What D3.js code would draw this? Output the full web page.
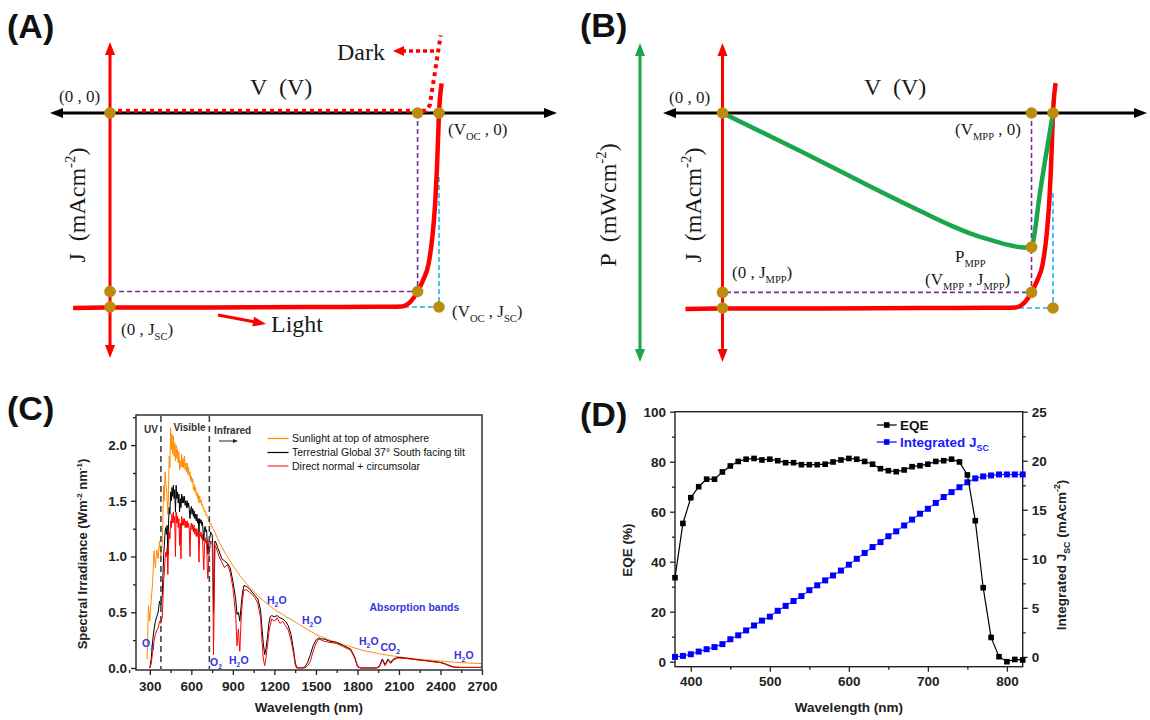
<!DOCTYPE html>
<html><head><meta charset="utf-8">
<script src="https://cdn.jsdelivr.net/npm/d3@7"></script>
<style>body{margin:0;background:#fff} svg{display:block} text{white-space:pre}</style>
</head><body><svg id="c" width="1150" height="720"></svg>
<script>
// ---------------- DATA ----------------
// Panels A/B : schematic J-V curve (V normalised to Voc, J normalised to Jsc)
const jvV = [-0.112, 0.0, 0.3, 0.6, 0.8, 0.887, 0.914, 0.935, 0.952, 0.968, 0.981, 0.989, 0.994, 1.0, 1.008];
const jvJ = [-1.005, -1.003, -1.002, -1.0, -0.999, -0.997, -0.972, -0.92, -0.86, -0.78, -0.62, -0.448, -0.277, 0.0, 0.153];
const darkV = [0, 0.96, 0.972, 1.005];
const darkJ = [0.012, 0.012, 0.04, 0.40];
const powV = [0, 0.229, 0.45, 0.6, 0.69, 0.76, 0.82, 0.87, 0.91, 0.935, 0.945, 0.958, 0.978, 1.0];
const powP = [0, -0.237, -0.474, -0.63, -0.72, -0.78, -0.82, -0.848, -0.862, -0.86, -0.76, -0.55, -0.28, 0];
const mppV = 0.935, mppJ = -0.92, mppP = -0.86;

// Panel C : solar spectra
const specWl = [280,290,300,310,320,330,340,350,360,370,380,390,400,
 405,410,415,420,425,430,435,440,445,450,455,460,465,470,475,480,485,490,495,500,
 505,510,515,520,525,530,535,540,545,550,555,560,565,570,575,580,585,590,595,600,
 605,610,615,620,625,630,635,640,645,650,655,660,665,670,675,680,685,690,695,700,
 705,710,715,720,725,730,735,740,745,750,755,760,770,780,790,800,
 820,840,860,880,900,910,920,930,940,950,960,970,980,1000,1020,1040,1060,1080,1100,1110,1120,1130,1140,1150,1160,1170,1180,1200,1220,1240,1260,1280,1300,1320,1340,1350,1360,1380,1400,1420,1440,1460,1480,1500,1520,1540,1560,1600,1650,1700,1750,1780,1800,1820,1850,1900,1940,1960,1980,2000,2020,2040,2060,2080,2100,2150,2200,2250,2300,2350,2400,2430,2450,2470,2500,2550,2600,2650,2700];
const specAM0 = [0.08,0.56,0.42,0.62,0.76,1.05,0.9,1.06,0.98,1.14,1.0,1.12,1.64,
 1.5,1.76,1.66,1.62,1.5,1.38,1.6,1.9,1.8,2.15,
 1.96,2.1,1.92,2.08,1.9,2.02,1.86,2.0,1.88,1.96,
 1.84,1.94,1.78,1.86,1.8,1.92,1.8,1.88,1.8,1.9,
 1.78,1.84,1.76,1.84,1.74,1.8,1.72,1.76,1.68,1.72,
 1.66,1.7,1.6,1.65,1.58,1.62,1.55,1.58,1.52,1.56,
 1.48,1.54,1.48,1.51,1.46,1.47,1.43,1.44,1.4,1.41,
 1.37,1.38,1.35,1.35,1.32,1.32,1.29,1.3,1.27,1.27,
 1.25,1.24,1.22,1.19,1.16,1.13,
 1.09,1.04,1.0,0.96,0.92,0.9,0.885,0.865,0.85,0.83,
 0.815,0.8,0.785,0.755,0.725,0.7,0.675,0.65,0.625,0.615,
 0.605,0.595,0.585,0.575,0.565,0.555,0.545,0.525,0.51,0.495,
 0.48,0.465,0.45,0.435,0.42,0.412,0.405,0.39,0.375,0.36,
 0.345,0.33,0.315,0.3,0.29,0.28,0.27,0.25,0.23,0.21,
 0.19,0.18,0.172,0.165,0.155,0.142,0.133,0.128,0.123,0.119,
 0.115,0.111,0.107,0.104,0.1,0.092,0.085,0.078,0.072,0.067,
 0.062,0.059,0.057,0.055,0.052,0.048,0.045,0.042,0.039];
const specGlobal = [null,null,0.0,0.08,0.24,0.34,0.42,0.46,0.5,0.6,0.56,0.66,1.02,
 1.1,1.22,1.26,1.2,1.28,1.02,1.3,1.44,1.38,1.58,
 1.5,1.62,1.54,1.64,1.52,1.6,1.4,1.64,1.52,1.58,
 1.48,1.56,1.4,1.52,1.44,1.56,1.48,1.54,1.48,1.54,
 1.46,1.5,1.44,1.5,1.44,1.48,1.42,1.34,1.42,1.45,
 1.38,1.43,1.36,1.41,1.34,1.38,1.32,1.38,1.3,1.34,
 1.22,1.34,1.3,1.33,1.28,1.31,1.22,1.14,1.26,1.27,
 1.22,1.24,1.12,1.02,1.1,1.16,1.18,1.22,1.2,1.2,
 1.1,0.5,1.14,1.12,1.08,1.05,
 0.98,0.96,0.94,0.9,0.78,0.7,0.62,0.48,0.5,0.42,
 0.56,0.68,0.74,0.73,0.71,0.68,0.65,0.62,0.52,0.36,
 0.22,0.12,0.18,0.28,0.4,0.46,0.47,0.46,0.47,0.45,
 0.44,0.42,0.38,0.3,0.15,0.05,0.01,0.0,0.0,0.01,
 0.05,0.12,0.2,0.25,0.27,0.26,0.26,0.24,0.23,0.2,
 0.17,0.1,0.02,0.0,0.0,0.0,0.0,0.02,0.08,0.03,
 0.08,0.05,0.08,0.09,0.095,0.088,0.08,0.072,0.066,0.058,
 0.05,0.04,0.03,0.02,0.008,0.005,0.005,0.005,0.005];
const specDirect = [null,null,0.0,0.04,0.14,0.24,0.3,0.34,0.36,0.42,0.4,0.46,0.78,
 0.86,0.98,1.04,1.0,1.08,0.84,1.1,1.22,1.16,1.32,
 1.26,1.38,1.3,1.4,1.3,1.36,1.0,1.4,1.3,1.36,
 1.26,1.34,1.1,1.3,0.98,1.36,1.28,1.34,1.28,1.34,
 1.26,1.32,1.26,1.32,1.26,1.3,1.24,1.0,1.26,1.3,
 1.24,1.29,1.22,1.28,1.2,1.25,1.18,1.25,1.18,1.22,
 0.95,1.22,1.18,1.22,1.16,1.2,1.02,0.88,1.1,1.17,
 1.12,1.15,0.9,0.8,0.95,1.06,1.1,1.14,1.12,1.12,
 0.9,0.12,1.1,1.08,1.04,1.0,
 0.95,0.9,0.93,0.86,0.72,0.6,0.48,0.2,0.35,0.15,
 0.45,0.62,0.7,0.7,0.68,0.66,0.63,0.58,0.45,0.25,
 0.08,0.02,0.1,0.2,0.32,0.38,0.44,0.42,0.45,0.4,
 0.42,0.38,0.34,0.25,0.12,0.03,0.0,0.0,0.0,0.0,
 0.02,0.06,0.15,0.22,0.26,0.25,0.24,0.23,0.22,0.19,
 0.16,0.09,0.01,0.0,0.0,0.0,0.0,0.01,0.07,0.02,
 0.07,0.04,0.07,0.085,0.09,0.085,0.078,0.07,0.064,0.055,
 0.048,0.035,0.025,0.015,0.006,0.005,0.005,0.005,0.005];
const specXTicks = [300,600,900,1200,1500,1800,2100,2400,2700];
const specYTicks = [0,0.5,1.0,1.5,2.0];
const specNames = ["Sunlight at top of atmosphere","Terrestrial Global 37° South facing tilt","Direct normal + circumsolar"];
const regionBounds = [380, 730];

// Panel D : EQE and integrated Jsc
const eqeWl = [380,390,400,410,420,430,440,450,460,470,480,490,500,510,520,530,540,550,560,570,580,590,600,610,620,630,640,650,660,670,680,690,700,710,720,730,740,750,760,770,780,790,800,810,820];
const eqeVal = [33.6,55.3,65.6,70.0,73.0,73.0,75.9,78.3,80.1,81.0,81.3,80.7,81.0,80.4,79.6,79.6,78.8,78.8,78.8,79.0,79.9,80.7,81.3,81.0,80.1,79.0,77.2,76.4,76.0,76.7,78.0,78.4,79.0,80.1,80.4,81.0,79.9,74.7,56.4,29.6,9.7,2.0,0.0,0.9,0.7];
const jscVal = [0.0,0.1,0.27,0.54,0.78,1.0,1.3,1.8,2.2,2.7,3.2,3.7,4.1,4.7,5.2,5.7,6.2,6.8,7.3,7.8,8.3,8.8,9.4,10.0,10.6,11.2,11.7,12.3,12.8,13.4,14.0,14.6,15.1,15.7,16.3,16.8,17.3,17.8,18.2,18.4,18.5,18.6,18.6,18.6,18.6];
const eqeXTicks = [400,500,600,700,800];
const eqeYTicks = [0,20,40,60,80,100];
const jscYTicks = [0,5,10,15,20,25];

// ---------------- DRAW ----------------
const svg = d3.select('#c');
svg.append('rect').attr('width',1150).attr('height',720).attr('fill','#fff');
const SERIF = "'Liberation Serif','Times New Roman',serif";
const SANS = "'Liberation Sans',Arial,sans-serif";
const TXT = '#1a1a1a';
const DOT = '#bd8c0c';

function rich(g, x, y, parts, o){
  o = o||{};
  const size = o.size||17;
  const t = g.append('text').attr('x',x).attr('y',y).attr('font-size',size)
    .attr('font-family',o.family||SERIF).attr('text-anchor',o.anchor||'start').attr('fill',o.fill||TXT);
  if(o.weight) t.attr('font-weight',o.weight);
  if(o.rotate) t.attr('transform',`rotate(${o.rotate},${x},${y})`);
  let shift=0;
  parts.forEach(p=>{
    const s = Array.isArray(p)?p[0]:p, type = Array.isArray(p)?p[1]:'';
    const target = type==='sub'? size*0.28 : type==='sup'? -size*0.42 : 0;
    const ts = t.append('tspan').text(s).attr('dy', target-shift);
    shift = target;
    if(type) ts.attr('font-size', size*(o.subScale||0.62));
  });
  return t;
}
function head(g, x, y, ang, len, wid, color){
  const a = ang*Math.PI/180, c=Math.cos(a), s=Math.sin(a);
  const bx = x - len*c, by = y - len*s;
  g.append('path').attr('d',`M${x},${y}L${bx - wid/2*s},${by + wid/2*c}L${bx + wid/2*s},${by - wid/2*c}Z`).attr('fill',color);
}
function arrowLine(g, x1,y1,x2,y2,color,w,both,len,wid,dash){
  len=len||13; wid=wid||10;
  const ang = Math.atan2(y2-y1,x2-x1), c=Math.cos(ang), s=Math.sin(ang);
  const sx = both? x1 + (len-2)*c : x1, sy = both? y1+(len-2)*s : y1;
  const l = g.append('line').attr('x1',sx).attr('y1',sy).attr('x2',x2-(len-2)*c).attr('y2',y2-(len-2)*s)
    .attr('stroke',color).attr('stroke-width',w);
  if(dash) l.attr('stroke-dasharray',dash);
  head(g,x2,y2,ang*180/Math.PI,len,wid,color);
  if(both) head(g,x1,y1,ang*180/Math.PI+180,len,wid,color);
}
function dots(g, pts){
  pts.forEach(p=>g.append('circle').attr('cx',p[0]).attr('cy',p[1]).attr('r',5.8).attr('fill',DOT));
}
function panelLabel(x,y,t){
  svg.append('text').attr('x',x).attr('y',y).attr('font-family',SANS).attr('font-weight','bold')
   .attr('font-size',34).attr('fill','#111').text(t);
}
const lightPts = jvV.map((v,i)=>[v,jvJ[i]]);

// ---------- Panel A ----------
{
  const g = svg.append('g');
  const x = d3.scaleLinear().domain([0,1]).range([110,439]);
  const y = d3.scaleLinear().domain([0,-1]).range([113,307]);
  panelLabel(7,38,'(A)');
  arrowLine(g, 50, y(0), 557, y(0), '#000', 3, true, 13, 10);
  arrowLine(g, x(0), 42, x(0), 358, '#ff0000', 3, true, 13, 10);
  g.append('path').attr('d',`M${x(mppV)},${y(0)}V${y(mppJ)}H${x(0)}`).attr('fill','none')
    .attr('stroke','#7030a0').attr('stroke-width',1.6).attr('stroke-dasharray','5,3');
  g.append('path').attr('d',`M${x(1)},${y(-0.33)}V${y(-1)}H${x(0.887)}`).attr('fill','none')
    .attr('stroke','#1fb0ee').attr('stroke-width',1.6).attr('stroke-dasharray','5,3');
  const line = d3.line().x(d=>x(d[0])).y(d=>y(d[1])).curve(d3.curveMonotoneX);
  g.append('path').attr('d',line(lightPts)).attr('fill','none').attr('stroke','#ff0000').attr('stroke-width',4.5);
  g.append('path').attr('d',d3.line().x(d=>x(d[0])).y(d=>y(d[1]))(darkV.map((v,i)=>[v,darkJ[i]])))
    .attr('fill','none').attr('stroke','#ff0000').attr('stroke-width',4).attr('stroke-dasharray','4,4');
  arrowLine(g, 434, 51, 393, 51, '#ff0000', 3.5, false, 11, 10, '4,3');
  arrowLine(g, 218, 315, 266, 324, '#ff0000', 3, false, 13, 10);
  dots(g, [[x(0),y(0)],[x(mppV),y(0)],[x(1),y(0)],[x(0),y(mppJ)],[x(0),y(-1)],[x(mppV),y(mppJ)],[x(1),y(-1)]]);
  rich(g, 250, 95, ['V  (V)'], {size:24});
  rich(g, 59, 102, ['(0 , 0)'], {size:17});
  rich(g, 337, 60, ['Dark'], {size:24});
  rich(g, 448, 135, ['(V',['OC','sub'],' , 0)'], {size:17});
  rich(g, 85, 205, ['J  (mAcm',['-2','sup'],')'], {size:24, anchor:'middle', rotate:-90});
  rich(g, 121, 335, ['(0 , J',['SC','sub'],')'], {size:17});
  rich(g, 271, 332, ['Light'], {size:24});
  rich(g, 452, 317, ['(V',['OC','sub'],' , J',['SC','sub'],')'], {size:17});
}

// ---------- Panel B ----------
{
  const g = svg.append('g');
  const x = d3.scaleLinear().domain([0,1]).range([722.5,1053]);
  const y = d3.scaleLinear().domain([0,-1]).range([113,308]);
  const p = d3.scaleLinear().domain([0,-1]).range([113,269]);
  panelLabel(580,37,'(B)');
  arrowLine(g, 663, y(0), 1147, y(0), '#000', 3, true, 13, 10);
  arrowLine(g, 640, 43, 640, 362, '#1aa64a', 3, true, 13, 10);
  arrowLine(g, x(0), 43, x(0), 362, '#ff0000', 3, true, 13, 10);
  g.append('path').attr('d',`M${x(mppV)},${y(0)}V${y(mppJ)}H${x(0)}`).attr('fill','none')
    .attr('stroke','#7030a0').attr('stroke-width',1.6).attr('stroke-dasharray','5,3');
  g.append('path').attr('d',`M${x(1)},${y(-0.41)}V${y(-1)}H${x(0.887)}`).attr('fill','none')
    .attr('stroke','#1fb0ee').attr('stroke-width',1.6).attr('stroke-dasharray','5,3');
  const line = d3.line().x(d=>x(d[0])).y(d=>y(d[1])).curve(d3.curveMonotoneX);
  g.append('path').attr('d',line(lightPts)).attr('fill','none').attr('stroke','#ff0000').attr('stroke-width',4.5);
  g.append('path').attr('d',d3.line().x(d=>x(d[0])).y(d=>p(d[1])).curve(d3.curveMonotoneX)(powV.map((v,i)=>[v,powP[i]])))
    .attr('fill','none').attr('stroke','#1aa64a').attr('stroke-width',4.5);
  dots(g, [[x(0),y(0)],[x(mppV),y(0)],[x(1),y(0)],[x(mppV),p(mppP)],[x(0),y(mppJ)],[x(0),y(-1)],[x(mppV),y(mppJ)],[x(1),y(-1)]]);
  rich(g, 864, 95, ['V  (V)'], {size:24});
  rich(g, 669, 103, ['(0 , 0)'], {size:17});
  rich(g, 955, 135, ['(V',['MPP','sub'],' , 0)'], {size:17});
  rich(g, 955, 262, ['P',['MPP','sub']], {size:17});
  rich(g, 925, 285, ['(V',['MPP','sub'],' , J',['MPP','sub'],')'], {size:17});
  rich(g, 732, 278, ['(0 , J',['MPP','sub'],')'], {size:17});
  rich(g, 616, 205, ['P  (mWcm',['-2','sup'],')'], {size:24, anchor:'middle', rotate:-90});
  rich(g, 701, 205, ['J  (mAcm',['-2','sup'],')'], {size:24, anchor:'middle', rotate:-90});
}

function styleAxis(sel, size){
  sel.select('.domain').remove();
  sel.selectAll('.tick line').attr('stroke','#222').attr('stroke-width',1.3);
  sel.selectAll('.tick text').attr('font-family',SANS).attr('font-weight','bold').attr('font-size',size||13.5).attr('fill','#222');
}

// ---------- Panel C ----------
{
  const g = svg.append('g');
  const x = d3.scaleLinear().domain([200,2700]).range([136,482]);
  const y = d3.scaleLinear().domain([-0.018,2.27]).range([670,415]);
  panelLabel(7,420,'(C)');
  const minorX = specXTicks.map(v=>v-150);
  const minorY = specYTicks.map(v=>v+0.25).filter(v=>v<2.27);
  g.append('g').attr('transform','translate(0,670)').call(d3.axisBottom(x).tickValues(minorX).tickSize(3).tickFormat('')).call(styleAxis);
  g.append('g').attr('transform','translate(0,670)').call(d3.axisBottom(x).tickValues(specXTicks).tickSize(5).tickPadding(6).tickFormat(d3.format('d'))).call(styleAxis);
  g.append('g').attr('transform','translate(136,0)').call(d3.axisLeft(y).tickValues(minorY).tickSize(3).tickFormat('')).call(styleAxis);
  g.append('g').attr('transform','translate(136,0)').call(d3.axisLeft(y).tickValues(specYTicks).tickSize(5).tickPadding(4).tickFormat(d3.format('.1f'))).call(styleAxis);
  const mk = arr => d3.line().defined(d=>d[1]!=null).x(d=>x(d[0])).y(d=>y(d[1]))(specWl.map((w,i)=>[w,arr[i]]));
  g.append('path').attr('d',mk(specAM0)).attr('fill','none').attr('stroke','#ff8c00').attr('stroke-width',1);
  g.append('path').attr('d',mk(specGlobal)).attr('fill','none').attr('stroke','#000').attr('stroke-width',1);
  g.append('path').attr('d',mk(specDirect)).attr('fill','none').attr('stroke','#ff0000').attr('stroke-width',1);
  regionBounds.forEach(b=>g.append('line').attr('x1',x(b)).attr('x2',x(b)).attr('y1',416).attr('y2',669)
     .attr('stroke','#444').attr('stroke-width',1.6).attr('stroke-dasharray','6,4'));
  g.append('rect').attr('x',136).attr('y',415).attr('width',346).attr('height',255).attr('fill','none').attr('stroke','#222').attr('stroke-width',1.4);
  const small = {family:SANS, size:10, weight:'bold', fill:'#333'};
  rich(g, 144, 433, ['UV'], small);
  rich(g, 173.5, 431, ['Visible'], small);
  rich(g, 214, 434, ['Infrared'], small);
  arrowLine(g, 219, 441, 238, 441, '#222', 1, false, 5, 4);
  const colors = ['#ff8c00','#000','#ff3030'];
  [438.5,452.5,466].forEach((ly,i)=>{
    g.append('line').attr('x1',267.5).attr('x2',288.5).attr('y1',ly).attr('y2',ly).attr('stroke',colors[i]).attr('stroke-width',1.2);
    rich(g, 292, ly+3.7, [specNames[i]], {family:SANS, size:10.5, fill:'#111'});
  });
  const blue = {family:SANS, size:10.5, weight:'bold', fill:'#3535e0', subScale:0.65};
  rich(g, 142, 647, ['O',['3','sub']], blue);
  rich(g, 210, 666, ['O',['2','sub']], blue);
  rich(g, 229, 664, ['H',['2','sub'],'O'], blue);
  rich(g, 267, 604, ['H',['2','sub'],'O'], blue);
  rich(g, 302, 624, ['H',['2','sub'],'O'], blue);
  rich(g, 369.5, 611, ['Absorption bands'], blue);
  rich(g, 359, 645, ['H',['2','sub'],'O'], blue);
  rich(g, 380.5, 651, ['CO',['2','sub']], blue);
  rich(g, 454, 659, ['H',['2','sub'],'O'], blue);
  rich(g, 87, 554, ['Spectral Irradiance (Wm',['-2','sup'],' nm',['-1','sup'],')'], {family:SANS, size:13, weight:'bold', anchor:'middle', rotate:-90, fill:'#222'});
  rich(g, 309, 712, ['Wavelength (nm)'], {family:SANS, size:13.5, weight:'bold', anchor:'middle', fill:'#222'});
}

// ---------- Panel D ----------
{
  const g = svg.append('g');
  const x = d3.scaleLinear().domain([380,820]).range([675,1022.7]);
  const yl = d3.scaleLinear().domain([-2,100]).range([666.7,411.7]);
  const yr = d3.scaleLinear().domain([-1,25]).range([666.7,411.7]);
  panelLabel(580,426,'(D)');
  g.append('g').attr('transform','translate(0,666.7)').call(d3.axisBottom(x).tickValues([450,550,650,750]).tickSize(3).tickFormat('')).call(styleAxis);
  g.append('g').attr('transform','translate(0,666.7)').call(d3.axisBottom(x).tickValues(eqeXTicks).tickSize(5).tickPadding(5)).call(styleAxis);
  g.append('g').attr('transform','translate(675,0)').call(d3.axisLeft(yl).tickValues([10,30,50,70,90]).tickSize(3).tickFormat('')).call(styleAxis);
  g.append('g').attr('transform','translate(675,0)').call(d3.axisLeft(yl).tickValues(eqeYTicks).tickSize(5).tickPadding(4)).call(styleAxis);
  g.append('g').attr('transform','translate(1022.7,0)').call(d3.axisRight(yr).tickValues([2.5,7.5,12.5,17.5,22.5]).tickSize(3).tickFormat('')).call(styleAxis);
  g.append('g').attr('transform','translate(1022.7,0)').call(d3.axisRight(yr).tickValues(jscYTicks).tickSize(5).tickPadding(4)).call(styleAxis);
  g.append('rect').attr('x',675).attr('y',411.7).attr('width',347.7).attr('height',255).attr('fill','none').attr('stroke','#222').attr('stroke-width',1.4);
  const jscPts = eqeWl.map((w,i)=>[w,jscVal[i]]);
  const eqePts = eqeWl.map((w,i)=>[w,eqeVal[i]]);
  g.append('path').attr('d',d3.line().x(d=>x(d[0])).y(d=>yr(d[1]))(jscPts)).attr('fill','none').attr('stroke','#0000ff').attr('stroke-width',1);
  g.selectAll('.js').data(jscPts).enter().append('rect').attr('x',d=>x(d[0])-3).attr('y',d=>yr(d[1])-3).attr('width',6).attr('height',6).attr('fill','#0000ff');
  g.append('path').attr('d',d3.line().x(d=>x(d[0])).y(d=>yl(d[1]))(eqePts)).attr('fill','none').attr('stroke','#000').attr('stroke-width',1.2);
  g.selectAll('.eq').data(eqePts).enter().append('rect').attr('x',d=>x(d[0])-2.8).attr('y',d=>yl(d[1])-2.8).attr('width',5.6).attr('height',5.6).attr('fill','#000');
  [[425,'#000',['EQE']],[442,'#0000ff',['Integrated J',['SC','sub']]]].forEach(([ly,c,parts])=>{
    g.append('line').attr('x1',876.7).attr('x2',896.7).attr('y1',ly).attr('y2',ly).attr('stroke',c).attr('stroke-width',1.2);
    g.append('rect').attr('x',886.7-2.8).attr('y',ly-2.8).attr('width',5.6).attr('height',5.6).attr('fill',c);
    rich(g, 900, ly+5, parts, {family:SANS, size:13.5, weight:'bold', fill:c==='#000'?'#111':'#1a1aff', subScale:0.65});
  });
  rich(g, 632, 550, ['EQE (%)'], {family:SANS, size:13.5, weight:'bold', anchor:'middle', rotate:-90, fill:'#222'});
  rich(g, 1066, 555, ['Integrated J',['SC','sub'],' (mAcm',['-2','sup'],')'], {family:SANS, size:13.5, weight:'bold', anchor:'middle', rotate:-90, fill:'#222', subScale:0.65});
  rich(g, 849, 712, ['Wavelength (nm)'], {family:SANS, size:13.5, weight:'bold', anchor:'middle', fill:'#222'});
}
</script></body></html>
